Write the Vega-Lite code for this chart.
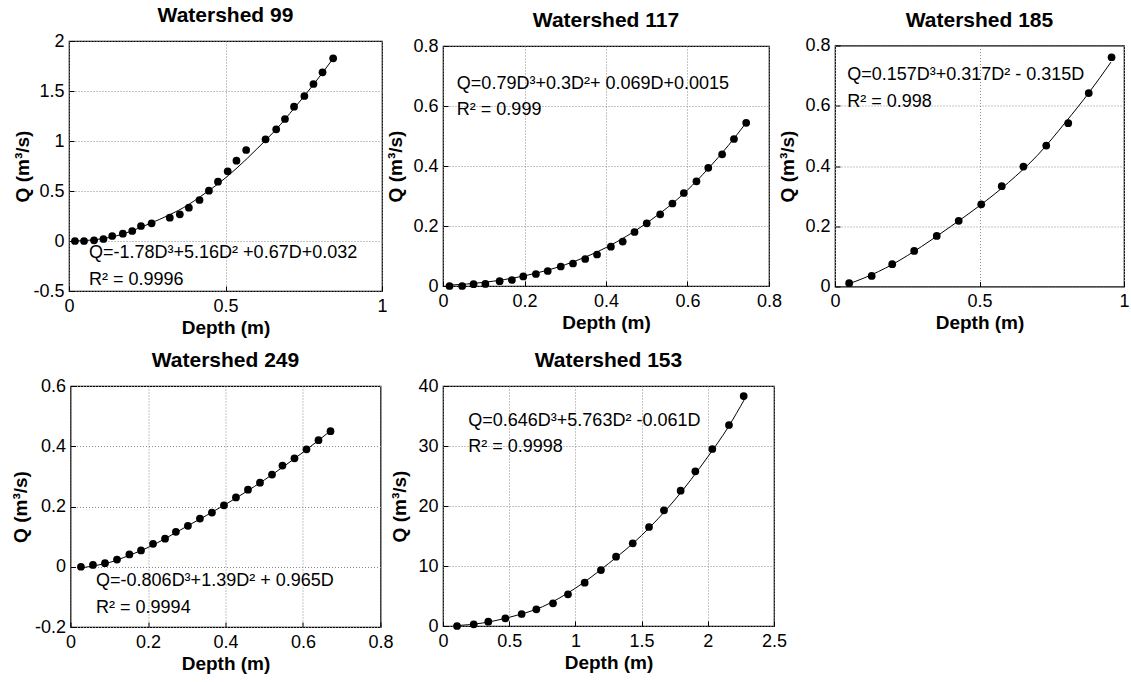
{
  "$schema": "https://vega.github.io/schema/vega-lite/v6.json",
  "padding": {"left": 10, "top": 4, "right": 0, "bottom": 0},
  "background": "white",
  "datasets": {
    "pts": [
      {"ws": 99, "depth": 0.019, "q": 0}, {"ws": 99, "depth": 0.048, "q": 0}, {"ws": 99, "depth": 0.080, "q": 0.007}, {"ws": 99, "depth": 0.110, "q": 0.02}, {"ws": 99, "depth": 0.138, "q": 0.05}, {"ws": 99, "depth": 0.172, "q": 0.073}, {"ws": 99, "depth": 0.202, "q": 0.10}, {"ws": 99, "depth": 0.230, "q": 0.15}, {"ws": 99, "depth": 0.264, "q": 0.177}, {"ws": 99, "depth": 0.322, "q": 0.233}, {"ws": 99, "depth": 0.354, "q": 0.267}, {"ws": 99, "depth": 0.383, "q": 0.333}, {"ws": 99, "depth": 0.417, "q": 0.41}, {"ws": 99, "depth": 0.447, "q": 0.503}, {"ws": 99, "depth": 0.476, "q": 0.593}, {"ws": 99, "depth": 0.507, "q": 0.697}, {"ws": 99, "depth": 0.535, "q": 0.803}, {"ws": 99, "depth": 0.566, "q": 0.91}, {"ws": 99, "depth": 0.628, "q": 1.017}, {"ws": 99, "depth": 0.662, "q": 1.117}, {"ws": 99, "depth": 0.690, "q": 1.22}, {"ws": 99, "depth": 0.719, "q": 1.343}, {"ws": 99, "depth": 0.752, "q": 1.45}, {"ws": 99, "depth": 0.781, "q": 1.57}, {"ws": 99, "depth": 0.810, "q": 1.687}, {"ws": 99, "depth": 0.844, "q": 1.827},
      {"ws": 117, "depth": 0.016, "q": 0}, {"ws": 117, "depth": 0.047, "q": 0}, {"ws": 117, "depth": 0.075, "q": 0.006}, {"ws": 117, "depth": 0.104, "q": 0.007}, {"ws": 117, "depth": 0.139, "q": 0.016}, {"ws": 117, "depth": 0.169, "q": 0.02}, {"ws": 117, "depth": 0.197, "q": 0.032}, {"ws": 117, "depth": 0.228, "q": 0.04}, {"ws": 117, "depth": 0.257, "q": 0.05}, {"ws": 117, "depth": 0.289, "q": 0.065}, {"ws": 117, "depth": 0.319, "q": 0.075}, {"ws": 117, "depth": 0.349, "q": 0.09}, {"ws": 117, "depth": 0.378, "q": 0.105}, {"ws": 117, "depth": 0.412, "q": 0.131}, {"ws": 117, "depth": 0.441, "q": 0.148}, {"ws": 117, "depth": 0.470, "q": 0.18}, {"ws": 117, "depth": 0.500, "q": 0.209}, {"ws": 117, "depth": 0.533, "q": 0.239}, {"ws": 117, "depth": 0.563, "q": 0.275}, {"ws": 117, "depth": 0.591, "q": 0.31}, {"ws": 117, "depth": 0.622, "q": 0.349}, {"ws": 117, "depth": 0.651, "q": 0.394}, {"ws": 117, "depth": 0.685, "q": 0.439}, {"ws": 117, "depth": 0.714, "q": 0.49}, {"ws": 117, "depth": 0.744, "q": 0.544},
      {"ws": 185, "depth": 0.049, "q": 0.011}, {"ws": 185, "depth": 0.127, "q": 0.035}, {"ws": 185, "depth": 0.198, "q": 0.074}, {"ws": 185, "depth": 0.274, "q": 0.118}, {"ws": 185, "depth": 0.352, "q": 0.168}, {"ws": 185, "depth": 0.428, "q": 0.218}, {"ws": 185, "depth": 0.506, "q": 0.273}, {"ws": 185, "depth": 0.577, "q": 0.333}, {"ws": 185, "depth": 0.652, "q": 0.398}, {"ws": 185, "depth": 0.731, "q": 0.468}, {"ws": 185, "depth": 0.807, "q": 0.542}, {"ws": 185, "depth": 0.878, "q": 0.642}, {"ws": 185, "depth": 0.957, "q": 0.761},
      {"ws": 249, "depth": 0.027, "q": 0}, {"ws": 249, "depth": 0.058, "q": 0.006}, {"ws": 249, "depth": 0.089, "q": 0.012}, {"ws": 249, "depth": 0.120, "q": 0.024}, {"ws": 249, "depth": 0.152, "q": 0.041}, {"ws": 249, "depth": 0.182, "q": 0.054}, {"ws": 249, "depth": 0.213, "q": 0.076}, {"ws": 249, "depth": 0.244, "q": 0.093}, {"ws": 249, "depth": 0.272, "q": 0.116}, {"ws": 249, "depth": 0.303, "q": 0.136}, {"ws": 249, "depth": 0.334, "q": 0.16}, {"ws": 249, "depth": 0.365, "q": 0.18}, {"ws": 249, "depth": 0.396, "q": 0.204}, {"ws": 249, "depth": 0.427, "q": 0.23}, {"ws": 249, "depth": 0.458, "q": 0.256}, {"ws": 249, "depth": 0.489, "q": 0.279}, {"ws": 249, "depth": 0.520, "q": 0.306}, {"ws": 249, "depth": 0.547, "q": 0.336}, {"ws": 249, "depth": 0.578, "q": 0.36}, {"ws": 249, "depth": 0.609, "q": 0.39}, {"ws": 249, "depth": 0.640, "q": 0.42}, {"ws": 249, "depth": 0.671, "q": 0.45},
      {"ws": 153, "depth": 0.106, "q": 0}, {"ws": 153, "depth": 0.232, "q": 0.28}, {"ws": 153, "depth": 0.342, "q": 0.72}, {"ws": 153, "depth": 0.471, "q": 1.28}, {"ws": 153, "depth": 0.594, "q": 2.0}, {"ws": 153, "depth": 0.705, "q": 2.78}, {"ws": 153, "depth": 0.831, "q": 3.78}, {"ws": 153, "depth": 0.944, "q": 5.28}, {"ws": 153, "depth": 1.07, "q": 7.22}, {"ws": 153, "depth": 1.193, "q": 9.33}, {"ws": 153, "depth": 1.307, "q": 11.56}, {"ws": 153, "depth": 1.433, "q": 13.78}, {"ws": 153, "depth": 1.556, "q": 16.5}, {"ws": 153, "depth": 1.669, "q": 19.28}, {"ws": 153, "depth": 1.795, "q": 22.56}, {"ws": 153, "depth": 1.906, "q": 25.78}, {"ws": 153, "depth": 2.034, "q": 29.5}, {"ws": 153, "depth": 2.16, "q": 33.5}, {"ws": 153, "depth": 2.271, "q": 38.33}
    ],
    "curve": [
      {"ws": 99, "depth": 0.02, "q": 0.0}, {"ws": 99, "depth": 0.1, "q": 0.02}, {"ws": 99, "depth": 0.15, "q": 0.05}, {"ws": 99, "depth": 0.2, "q": 0.1}, {"ws": 99, "depth": 0.26, "q": 0.177}, {"ws": 99, "depth": 0.32, "q": 0.26}, {"ws": 99, "depth": 0.38, "q": 0.36}, {"ws": 99, "depth": 0.42, "q": 0.445}, {"ws": 99, "depth": 0.48, "q": 0.58}, {"ws": 99, "depth": 0.54, "q": 0.74}, {"ws": 99, "depth": 0.6, "q": 0.92}, {"ws": 99, "depth": 0.66, "q": 1.11}, {"ws": 99, "depth": 0.72, "q": 1.33}, {"ws": 99, "depth": 0.78, "q": 1.56}, {"ws": 99, "depth": 0.845, "q": 1.83},
      {"ws": 117, "depth": 0.015, "q": 0.0027}, {"ws": 117, "depth": 0.1, "q": 0.012}, {"ws": 117, "depth": 0.2, "q": 0.034}, {"ws": 117, "depth": 0.3, "q": 0.071}, {"ws": 117, "depth": 0.4, "q": 0.128}, {"ws": 117, "depth": 0.5, "q": 0.21}, {"ws": 117, "depth": 0.6, "q": 0.32}, {"ws": 117, "depth": 0.65, "q": 0.39}, {"ws": 117, "depth": 0.7, "q": 0.468}, {"ws": 117, "depth": 0.745, "q": 0.546},
      {"ws": 185, "depth": 0.045, "q": 0.008}, {"ws": 185, "depth": 0.1, "q": 0.028}, {"ws": 185, "depth": 0.2, "q": 0.074}, {"ws": 185, "depth": 0.3, "q": 0.133}, {"ws": 185, "depth": 0.4, "q": 0.199}, {"ws": 185, "depth": 0.5, "q": 0.268}, {"ws": 185, "depth": 0.6, "q": 0.345}, {"ws": 185, "depth": 0.7, "q": 0.435}, {"ws": 185, "depth": 0.8, "q": 0.548}, {"ws": 185, "depth": 0.88, "q": 0.645}, {"ws": 185, "depth": 0.955, "q": 0.745},
      {"ws": 249, "depth": 0.027, "q": -0.004}, {"ws": 249, "depth": 0.06, "q": 0.003}, {"ws": 249, "depth": 0.1, "q": 0.014}, {"ws": 249, "depth": 0.15, "q": 0.037}, {"ws": 249, "depth": 0.2, "q": 0.064}, {"ws": 249, "depth": 0.3, "q": 0.134}, {"ws": 249, "depth": 0.4, "q": 0.207}, {"ws": 249, "depth": 0.5, "q": 0.288}, {"ws": 249, "depth": 0.6, "q": 0.38}, {"ws": 249, "depth": 0.67, "q": 0.45},
      {"ws": 153, "depth": 0.1, "q": 0.05}, {"ws": 153, "depth": 0.3, "q": 0.5}, {"ws": 153, "depth": 0.5, "q": 1.45}, {"ws": 153, "depth": 0.75, "q": 3.2}, {"ws": 153, "depth": 1.0, "q": 6.3}, {"ws": 153, "depth": 1.25, "q": 10.4}, {"ws": 153, "depth": 1.5, "q": 15.1}, {"ws": 153, "depth": 1.75, "q": 21.0}, {"ws": 153, "depth": 2.0, "q": 28.2}, {"ws": 153, "depth": 2.15, "q": 33.0}, {"ws": 153, "depth": 2.28, "q": 37.9}
    ],
    "notes": [
      {"ws": 99, "depth": 0.064, "q": -0.17, "label": "Q=-1.78D³+5.16D² +0.67D+0.032"}, {"ws": 99, "depth": 0.064, "q": -0.44, "label": "R² = 0.9996"},
      {"ws": 117, "depth": 0.034, "q": 0.658, "label": "Q=0.79D³+0.3D²+ 0.069D+0.0015"}, {"ws": 117, "depth": 0.034, "q": 0.569, "label": "R² = 0.999"},
      {"ws": 185, "depth": 0.042, "q": 0.685, "label": "Q=0.157D³+0.317D² - 0.315D"}, {"ws": 185, "depth": 0.042, "q": 0.596, "label": "R² = 0.998"},
      {"ws": 249, "depth": 0.066, "q": -0.065, "label": "Q=-0.806D³+1.39D² + 0.965D"}, {"ws": 249, "depth": 0.066, "q": -0.154, "label": "R² = 0.9994"},
      {"ws": 153, "depth": 0.191, "q": 33.4, "label": "Q=0.646D³+5.763D² -0.061D"}, {"ws": 153, "depth": 0.191, "q": 28.95, "label": "R² = 0.9998"}
    ]
  },
  "columns": 3,
  "align": "each",
  "bounds": "flush",
  "center": true,
  "spacing": {"row": 95, "column": 61},
  "concat": [
    {
      "width": 313, "height": 250,
      "title": "Watershed 99",
      "encoding": {
        "x": {"field": "depth", "type": "quantitative", "scale": {"domain": [0, 1], "nice": false, "zero": false}, "axis": {"title": "Depth (m)", "values": [0, 0.5, 1]}},
        "y": {"field": "q", "type": "quantitative", "scale": {"domain": [-0.5, 2], "nice": false, "zero": false}, "axis": {"title": "Q (m³/s)", "values": [-0.5, 0, 0.5, 1, 1.5, 2], "minExtent": 36, "maxExtent": 36, "titlePadding": 1}}
      },
      "layer": [
        {"data": {"name": "curve"}, "transform": [{"filter": "datum.ws == 99"}], "mark": {"type": "line", "color": "black", "strokeWidth": 1, "interpolate": "monotone"}},
        {"data": {"name": "pts"}, "transform": [{"filter": "datum.ws == 99"}], "mark": {"type": "point", "filled": true, "color": "black", "size": 60, "opacity": 1}},
        {"data": {"name": "notes"}, "transform": [{"filter": "datum.ws == 99"}], "mark": {"type": "text", "align": "left", "baseline": "alphabetic", "fontSize": 18, "color": "black"}, "encoding": {"text": {"field": "label"}}}
      ]
    },
    {
      "width": 326, "height": 240,
      "title": "Watershed 117",
      "encoding": {
        "x": {"field": "depth", "type": "quantitative", "scale": {"domain": [0, 0.8], "nice": false, "zero": false}, "axis": {"title": "Depth (m)", "values": [0, 0.2, 0.4, 0.6, 0.8]}},
        "y": {"field": "q", "type": "quantitative", "scale": {"domain": [0, 0.8], "nice": false, "zero": false}, "axis": {"title": "Q (m³/s)", "values": [0, 0.2, 0.4, 0.6, 0.8], "minExtent": 33, "maxExtent": 33, "titlePadding": 5}}
      },
      "layer": [
        {"data": {"name": "curve"}, "transform": [{"filter": "datum.ws == 117"}], "mark": {"type": "line", "color": "black", "strokeWidth": 1, "interpolate": "monotone"}},
        {"data": {"name": "pts"}, "transform": [{"filter": "datum.ws == 117"}], "mark": {"type": "point", "filled": true, "color": "black", "size": 60, "opacity": 1}},
        {"data": {"name": "notes"}, "transform": [{"filter": "datum.ws == 117"}], "mark": {"type": "text", "align": "left", "baseline": "alphabetic", "fontSize": 18, "color": "black"}, "encoding": {"text": {"field": "label"}}}
      ]
    },
    {
      "width": 289, "height": 241,
      "title": "Watershed 185",
      "encoding": {
        "x": {"field": "depth", "type": "quantitative", "scale": {"domain": [0, 1], "nice": false, "zero": false}, "axis": {"title": "Depth (m)", "values": [0, 0.5, 1]}},
        "y": {"field": "q", "type": "quantitative", "scale": {"domain": [0, 0.8], "nice": false, "zero": false}, "axis": {"title": "Q (m³/s)", "values": [0, 0.2, 0.4, 0.6, 0.8], "minExtent": 33, "maxExtent": 33, "titlePadding": 5}}
      },
      "layer": [
        {"data": {"name": "curve"}, "transform": [{"filter": "datum.ws == 185"}], "mark": {"type": "line", "color": "black", "strokeWidth": 1, "interpolate": "monotone"}},
        {"data": {"name": "pts"}, "transform": [{"filter": "datum.ws == 185"}], "mark": {"type": "point", "filled": true, "color": "black", "size": 60, "opacity": 1}},
        {"data": {"name": "notes"}, "transform": [{"filter": "datum.ws == 185"}], "mark": {"type": "text", "align": "left", "baseline": "alphabetic", "fontSize": 18, "color": "black"}, "encoding": {"text": {"field": "label"}}}
      ]
    },
    {
      "width": 310, "height": 241,
      "title": "Watershed 249",
      "encoding": {
        "x": {"field": "depth", "type": "quantitative", "scale": {"domain": [0, 0.8], "nice": false, "zero": false}, "axis": {"title": "Depth (m)", "values": [0, 0.2, 0.4, 0.6, 0.8]}},
        "y": {"field": "q", "type": "quantitative", "scale": {"domain": [-0.2, 0.6], "nice": false, "zero": false}, "axis": {"title": "Q (m³/s)", "values": [-0.2, 0, 0.2, 0.4, 0.6], "minExtent": 39, "maxExtent": 39, "titlePadding": 1}}
      },
      "layer": [
        {"data": {"name": "curve"}, "transform": [{"filter": "datum.ws == 249"}], "mark": {"type": "line", "color": "black", "strokeWidth": 1, "interpolate": "monotone"}},
        {"data": {"name": "pts"}, "transform": [{"filter": "datum.ws == 249"}], "mark": {"type": "point", "filled": true, "color": "black", "size": 60, "opacity": 1}},
        {"data": {"name": "notes"}, "transform": [{"filter": "datum.ws == 249"}], "mark": {"type": "text", "align": "left", "baseline": "alphabetic", "fontSize": 18, "color": "black"}, "encoding": {"text": {"field": "label"}}}
      ]
    },
    {
      "width": 331, "height": 240,
      "title": "Watershed 153",
      "encoding": {
        "x": {"field": "depth", "type": "quantitative", "scale": {"domain": [0, 2.5], "nice": false, "zero": false}, "axis": {"title": "Depth (m)", "values": [0, 0.5, 1, 1.5, 2, 2.5]}},
        "y": {"field": "q", "type": "quantitative", "scale": {"domain": [0, 40], "nice": false, "zero": false}, "axis": {"title": "Q (m³/s)", "values": [0, 10, 20, 30, 40], "minExtent": 26, "maxExtent": 26, "titlePadding": 8}}
      },
      "layer": [
        {"data": {"name": "curve"}, "transform": [{"filter": "datum.ws == 153"}], "mark": {"type": "line", "color": "black", "strokeWidth": 1, "interpolate": "monotone"}},
        {"data": {"name": "pts"}, "transform": [{"filter": "datum.ws == 153"}], "mark": {"type": "point", "filled": true, "color": "black", "size": 60, "opacity": 1}},
        {"data": {"name": "notes"}, "transform": [{"filter": "datum.ws == 153"}], "mark": {"type": "text", "align": "left", "baseline": "alphabetic", "fontSize": 18, "color": "black"}, "encoding": {"text": {"field": "label"}}}
      ]
    }
  ],
  "config": {
    "font": "Liberation Sans",
    "view": {"stroke": "black", "strokeWidth": 1.2},
    "axis": {
      "grid": true, "gridColor": "#8a8a8a", "gridDash": [1, 2], "gridWidth": 1, "gridOpacity": 1,
      "domain": false, "ticks": true, "tickSize": -5, "tickColor": "black", "tickWidth": 1,
      "labelFont": "Liberation Sans", "labelFontSize": 18, "labelColor": "black", "labelPadding": 11,
      "labelFlush": false, "labelOverlap": false, "labelExpr": "datum.value + ''",
      "titleFont": "Liberation Sans", "titleFontSize": 19, "titleFontWeight": "bold", "titleColor": "black"
    },
    "axisX": {"titlePadding": 3},
    "axisY": {"labelPadding": 10},
    "title": {"font": "Liberation Sans", "fontSize": 21, "fontWeight": "bold", "color": "black", "anchor": "middle", "baseline": "alphabetic", "offset": 6}
  }
}
